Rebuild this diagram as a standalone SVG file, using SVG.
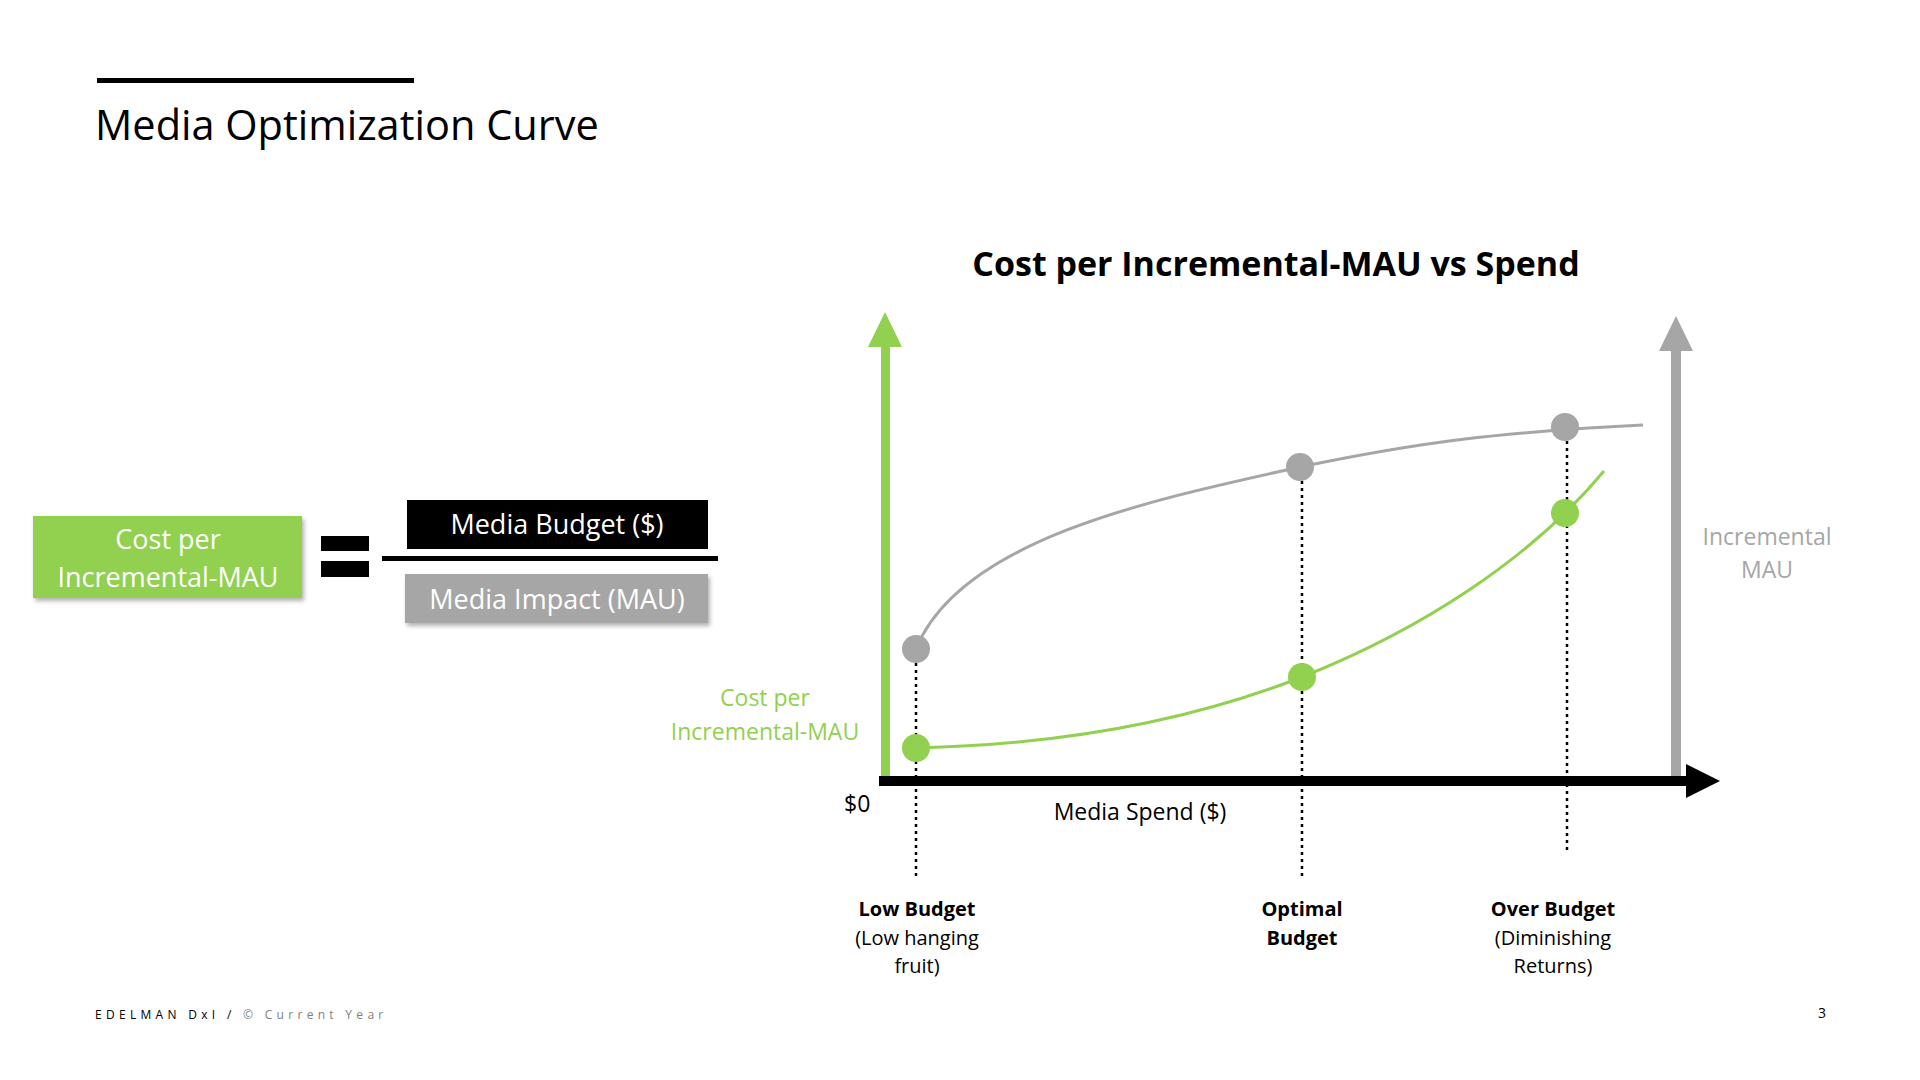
<svg xmlns="http://www.w3.org/2000/svg" width="1920" height="1080" viewBox="0 0 1920 1080">
<style>
text{font-family:"Open Sans","Liberation Sans",sans-serif}
.lbl{font-size:20px;text-anchor:middle;fill:#000}
.b{font-weight:bold}
.dot{stroke:#000;stroke-width:2.5;stroke-dasharray:3 4}
</style>
<rect width="1920" height="1080" fill="#fff"/>
<rect x="97" y="78" width="317" height="5" fill="#000"/>
<text x="95" y="140" font-size="41.5">Media Optimization Curve</text>
<text x="1276" y="276" font-size="34" font-weight="bold" text-anchor="middle">Cost per Incremental-MAU vs Spend</text>
<g id="formula">
<rect x="33" y="516" width="269" height="82" fill="#92d050" filter="drop-shadow(2px 3px 2px rgba(0,0,0,0.3))"/>
<text x="168" y="549" font-size="27" fill="#fff" text-anchor="middle">Cost per</text>
<text x="168" y="587" font-size="27" fill="#fff" text-anchor="middle">Incremental-MAU</text>
<rect x="321" y="536" width="48" height="15" fill="#000"/>
<rect x="321" y="561" width="48" height="16" fill="#000"/>
<rect x="407" y="500" width="301" height="49" fill="#000"/>
<text x="557" y="534" font-size="27" fill="#fff" text-anchor="middle">Media Budget ($)</text>
<rect x="382" y="556" width="336" height="5" fill="#000"/>
<rect x="405" y="574" width="303" height="49" fill="#a6a6a6" filter="drop-shadow(2px 3px 2px rgba(0,0,0,0.3))"/>
<text x="557" y="609" font-size="27" fill="#fff" text-anchor="middle">Media Impact (MAU)</text>
</g>
<g id="axes">
<rect x="881" y="345" width="9" height="436" fill="#92d050"/>
<polygon points="868,347 885,312 902,347" fill="#92d050"/>
<rect x="1671" y="349" width="10" height="432" fill="#a6a6a6"/>
<polygon points="1659,351 1676,316 1693,351" fill="#a6a6a6"/>
<rect x="879" y="776" width="810" height="10" fill="#000"/>
<polygon points="1686,764 1720,781 1686,798" fill="#000"/>
</g>
<g id="connectors">
<line class="dot" x1="916" y1="649" x2="916" y2="879"/>
<line class="dot" x1="1302" y1="467" x2="1302" y2="879"/>
<line class="dot" x1="1567" y1="427" x2="1567" y2="850"/>
<path d="M916,649 C960,540 1150,500 1300,467 C1420,442 1500,432 1643,425" fill="none" stroke="#a6a6a6" stroke-width="3"/>
<path d="M916,748 C1050,745 1180,725 1302,677 C1420,630 1530,560 1604,471" fill="none" stroke="#92d050" stroke-width="3"/>
</g>
<g id="points">
<circle cx="916" cy="649" r="14" fill="#a6a6a6"/>
<circle cx="1300" cy="467" r="14" fill="#a6a6a6"/>
<circle cx="1565" cy="427" r="14" fill="#a6a6a6"/>
<circle cx="916" cy="748" r="14" fill="#92d050"/>
<circle cx="1302" cy="677" r="14" fill="#92d050"/>
<circle cx="1565" cy="513" r="14" fill="#92d050"/>
</g>
<text x="844" y="812" font-size="23">$0</text>
<text x="1140" y="820" font-size="23" text-anchor="middle">Media Spend ($)</text>
<text x="765" y="706" font-size="23" fill="#92d050" text-anchor="middle">Cost per</text>
<text x="765" y="740" font-size="23" fill="#92d050" text-anchor="middle">Incremental-MAU</text>
<text x="1767" y="545" font-size="23" fill="#a6a6a6" text-anchor="middle">Incremental</text>
<text x="1767" y="578" font-size="23" fill="#a6a6a6" text-anchor="middle">MAU</text>
<text class="lbl b" x="917" y="916">Low Budget</text>
<text class="lbl" x="917" y="945">(Low hanging</text>
<text class="lbl" x="917" y="973">fruit)</text>
<text class="lbl b" x="1302" y="916">Optimal</text>
<text class="lbl b" x="1302" y="945">Budget</text>
<text class="lbl b" x="1553" y="916">Over Budget</text>
<text class="lbl" x="1553" y="945">(Diminishing</text>
<text class="lbl" x="1553" y="973">Returns)</text>
<text x="95" y="1019" font-size="12" letter-spacing="4.3">EDELMAN DxI / <tspan fill="#7f7f7f">© Current Year</tspan></text>
<text x="1818" y="1018" font-size="14">3</text>
</svg>
